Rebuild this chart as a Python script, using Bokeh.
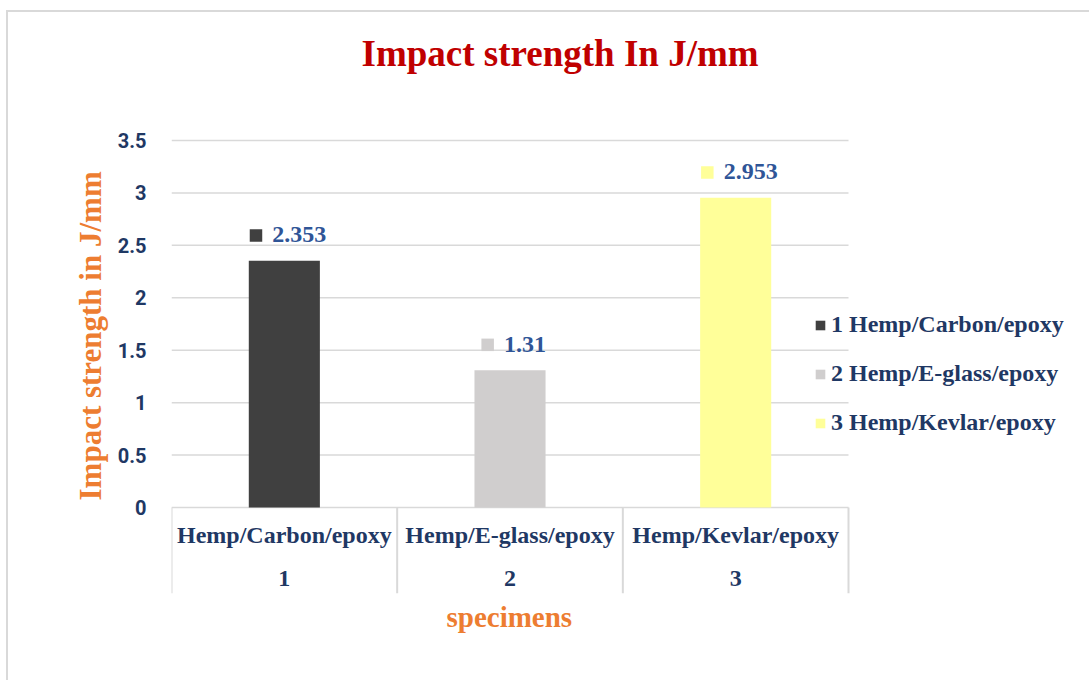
from bokeh.plotting import figure
from bokeh.models import (ColumnDataSource, Range1d, FixedTicker, Legend, LegendItem,
                          Title, NumeralTickFormatter)
from bokeh.core.properties import value
from bokeh.embed import file_html
from bokeh.resources import INLINE

# ---- data ----
categories = ["Hemp/Carbon/epoxy", "Hemp/E-glass/epoxy", "Hemp/Kevlar/epoxy"]
specimen_ids = ["1", "2", "3"]
impact = [2.353, 1.31, 2.953]
impact_labels = ["2.353", "1.31", "2.953"]
bar_colors = ["#404040", "#D0CECE", "#FFFF99"]
y_ticks = [0, 0.5, 1, 1.5, 2, 2.5, 3, 3.5]
legend_labels = [f"{s} {c}" for s, c in zip(specimen_ids, categories)]

# ---- layout (pixels) ----
W, H = 1083, 670
LEFT, TOP, BOTTOM = 163, 76, 89
PX_PER_CAT = 225.67           # width of one category cell
PX_PER_UNIT = 104.86          # pixels per J/mm
FRAME_W = W - LEFT
FRAME_H = H - TOP - BOTTOM
X1 = FRAME_W / PX_PER_CAT     # room on the right for the legend
Y1 = max(y_ticks) + 52 / PX_PER_UNIT   # room above for the data labels
Y0 = Y1 - FRAME_H / PX_PER_UNIT        # room below for the category table

NAVY = "#1F3864"
ORANGE = "#ED7D31"
GRID = "#D9D9D9"
SERIF = "Liberation Serif"

p = figure(width=W, height=H, x_range=Range1d(0, X1), y_range=Range1d(Y0, Y1),
           output_backend="svg", toolbar_location=None, x_axis_location=None,
           min_border_left=LEFT, min_border_right=0, min_border_top=TOP,
           min_border_bottom=BOTTOM)
p.styles = {"margin-left": "6px", "margin-top": "10px",
            "border-left": f"2px solid {GRID}", "border-top": f"2px solid {GRID}"}
p.outline_line_color = None
p.grid.visible = False

p.title = Title(text="Impact strength In J/mm", align="left", offset=190, standoff=30,
                text_font=SERIF, text_font_size="37px", text_font_style="bold",
                text_color="#C00000")

# y axis
p.yaxis.ticker = FixedTicker(ticks=y_ticks)
p.yaxis.formatter = NumeralTickFormatter(format="0.[0]")
p.yaxis.axis_line_color = None
p.yaxis.major_tick_line_color = None
p.yaxis.minor_tick_line_color = None
p.yaxis.major_tick_out = 0
p.yaxis.minor_tick_out = 0
p.yaxis.major_label_standoff = 25
p.yaxis.major_label_text_font = "Roboto"
p.yaxis.major_label_text_font_style = "bold"
p.yaxis.major_label_text_font_size = "20px"
p.yaxis.major_label_text_color = NAVY

p.add_layout(Title(text="Impact strength in J/mm", align="left", offset=93, standoff=14,
                   text_font=SERIF, text_font_size="31px", text_font_style="bold",
                   text_color=ORANGE), "left")
p.add_layout(Title(text="specimens", align="left", offset=275, standoff=14,
                   vertical_align="top", text_font=SERIF, text_font_size="29px",
                   text_font_style="bold", text_color=ORANGE), "below")

n = len(categories)
xc = [i + 0.5 for i in range(n)]   # category centres on the x scale
edges = list(range(n + 1))         # category cell borders

# horizontal grid lines over the category cells
p.segment(x0=0, x1=n, y0=y_ticks, y1=y_ticks, line_color=GRID, line_width=1.5)

# category table separators (from the axis down to the bottom of the table)
p.segment(x0=edges, x1=edges, y0=0, y1=Y0, line_color=GRID, line_width=2)

src = ColumnDataSource(dict(x=xc, cat=categories, sid=specimen_ids, val=impact,
                            lab=impact_labels, color=bar_colors))
bars = p.vbar(x="x", top="val", bottom=0, width=0.315, fill_color="color",
              line_color=None, source=src)

# data labels
p.text(x="x", y="val", text="lab", x_offset=15, y_offset=-26, text_align="center",
       text_baseline="alphabetic", text_font=value(SERIF), text_font_style="bold",
       text_font_size="24px", text_color="#2F5597", source=src)


def text_w(s):
    return sum(6 if ch == "." else 12 for ch in s)


mx = [x + (15 - text_w(l) / 2 - 10 - 6.35) / PX_PER_CAT
      for x, l in zip(xc, impact_labels)]
my = [v + 25.3 / PX_PER_UNIT for v in impact]
p.scatter(x=mx, y=my, marker="square", size=12.5, fill_color=bar_colors,
          line_color=None)

# category labels under the axis
p.text(x="x", y=0, text="cat", y_offset=27, text_align="center",
       text_baseline="alphabetic", text_font=value(SERIF), text_font_style="bold",
       text_font_size="24px", text_color=NAVY, source=src)
p.text(x="x", y=0, text="sid", y_offset=71, text_align="center",
       text_baseline="alphabetic", text_font=value(SERIF), text_font_style="bold",
       text_font_size="24px", text_color=NAVY, source=src)

legend = Legend(items=[LegendItem(label=lbl, renderers=[bars], index=i)
                       for i, lbl in enumerate(legend_labels)],
                location=(643, 157), orientation="vertical", padding=0, margin=0,
                spacing=22, glyph_width=12, glyph_height=12, label_height=24,
                label_standoff=5, label_text_font=SERIF, label_text_font_size="24px",
                label_text_font_style="bold", label_text_color=NAVY,
                background_fill_alpha=0, border_line_color=None)
p.add_layout(legend)

open("out.html", "w").write(file_html(p, INLINE))
